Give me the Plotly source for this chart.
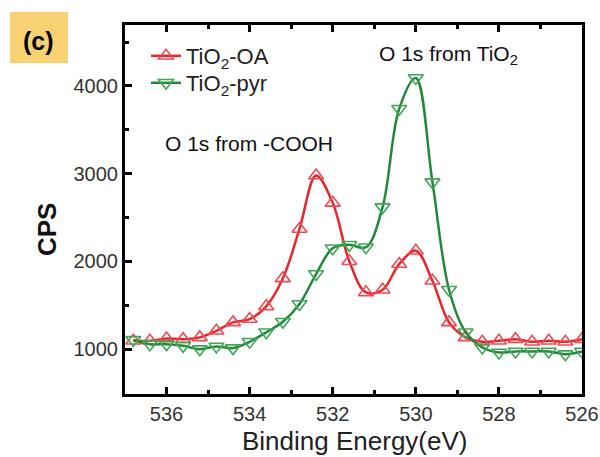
import plotly.graph_objects as go

# ---- data ----
energy = [536.8, 536.4, 536.0, 535.6, 535.2, 534.8, 534.4, 534.0, 533.6, 533.2,
          532.8, 532.4, 532.0, 531.6, 531.2, 530.8, 530.4, 530.0, 529.6, 529.2,
          528.8, 528.4, 528.0, 527.6, 527.2, 526.8, 526.4, 526.0]
cps_oa = [1096, 1096, 1123, 1115, 1135, 1210, 1306, 1344, 1489, 1808,
          2371, 2980, 2668, 2002, 1648, 1678, 1971, 2123, 1780, 1306,
          1135, 1085, 1096, 1115, 1085, 1096, 1085, 1115]
cps_pyr = [1107, 1058, 1058, 1039, 1001, 1032, 1013, 1085, 1193, 1313,
           1515, 1857, 2151, 2190, 2162, 2619, 3741, 4091, 2904, 1678,
           1193, 1021, 963, 975, 975, 975, 944, 975]
names = ["TiO<sub>2</sub>-OA", "TiO<sub>2</sub>-pyr"]
x_ticks = [536, 534, 532, 530, 528, 526]
y_ticks = [1000, 2000, 3000, 4000]

W, H = 600, 457
L, R, T, B = 125, 18, 25, 63
PW, PH = W - L - R, H - T - B

def px(xp):
    return (xp - L) / PW

def py(yp):
    return 1 - (yp - T) / PH

FONT = "Liberation Sans, Arial, sans-serif"
RED = "#E8262C"
GREEN = "#23893A"

fig = go.Figure()
fig.add_trace(go.Scatter(
    x=energy, y=cps_oa, name=names[0], mode="lines+markers", legend="legend",
    line=dict(color=RED, width=2.5, shape="spline", smoothing=1.0),
    marker=dict(symbol="triangle-up-open", size=13, color="#EE4A55",
                line=dict(width=1.6, color="#EE4A55")),
))
fig.add_trace(go.Scatter(
    x=energy, y=cps_pyr, name=names[1], mode="lines+markers", legend="legend2",
    line=dict(color=GREEN, width=2.5, shape="spline", smoothing=1.0),
    marker=dict(symbol="triangle-down-open", size=13, color="#3FA655",
                line=dict(width=1.6, color="#3FA655")),
))

leg_common = dict(xanchor="left", yanchor="top", bgcolor="rgba(0,0,0,0)",
                  font=dict(size=22, color="#222"), borderwidth=0)

axis_common = dict(ticks="inside", ticklen=7, tickwidth=2.5, tickcolor="black",
                   showline=True, linewidth=3, linecolor="black", showgrid=False,
                   zeroline=False, automargin=False,
                   tickfont=dict(size=20, color="#333"))

fig.update_layout(
    width=W, height=H,
    margin=dict(l=L, r=R, t=T, b=B, pad=0, autoexpand=False),
    paper_bgcolor="white", plot_bgcolor="white",
    font=dict(family=FONT, color="#222"),
    showlegend=True,
    legend=dict(x=px(146), y=py(35), **leg_common),
    legend2=dict(x=px(146), y=py(62), **leg_common),
    xaxis=dict(range=[537, 526], tickvals=x_ticks, mirror="ticks",
               minor=dict(ticks="inside", ticklen=4, tickwidth=2.5,
                          tickcolor="black", dtick=1, showgrid=False),
               **axis_common),
    yaxis=dict(range=[490, 4695], tickvals=y_ticks, mirror=True,
               minor=dict(ticks="inside", ticklen=4, tickwidth=2.5,
                          tickcolor="black", dtick=500, tick0=0, showgrid=False),
               **axis_common),
    shapes=[dict(type="rect", xref="paper", yref="paper",
                 x0=px(10), x1=px(68), y0=py(63), y1=py(12),
                 fillcolor="#F8D173", line=dict(width=0), layer="below")],
    annotations=[
        dict(text="<b>(c)</b>", xref="paper", yref="paper", x=px(38), y=py(41),
             xanchor="center", yanchor="middle", showarrow=False,
             font=dict(size=25, color="black")),
        dict(text="<b>CPS</b>", xref="paper", yref="paper", x=px(47), y=py(230),
             xanchor="center", yanchor="middle", textangle=-90, showarrow=False,
             font=dict(size=26, color="#111")),
        dict(text="Binding Energy(eV)", xref="paper", yref="paper", x=px(354),
             y=py(441), xanchor="center", yanchor="middle", showarrow=False,
             font=dict(size=26, color="#222")),
        dict(text="O 1s from -COOH", xref="paper", yref="paper", x=px(163),
             y=py(143), xanchor="left", yanchor="middle", showarrow=False,
             font=dict(size=21, color="#111")),
        dict(text="O 1s from TiO<sub>2</sub>", xref="paper", yref="paper",
             x=px(377), y=py(55), xanchor="left", yanchor="middle",
             showarrow=False, font=dict(size=21, color="#111")),
    ],
)

fig.write_html("out.html")
